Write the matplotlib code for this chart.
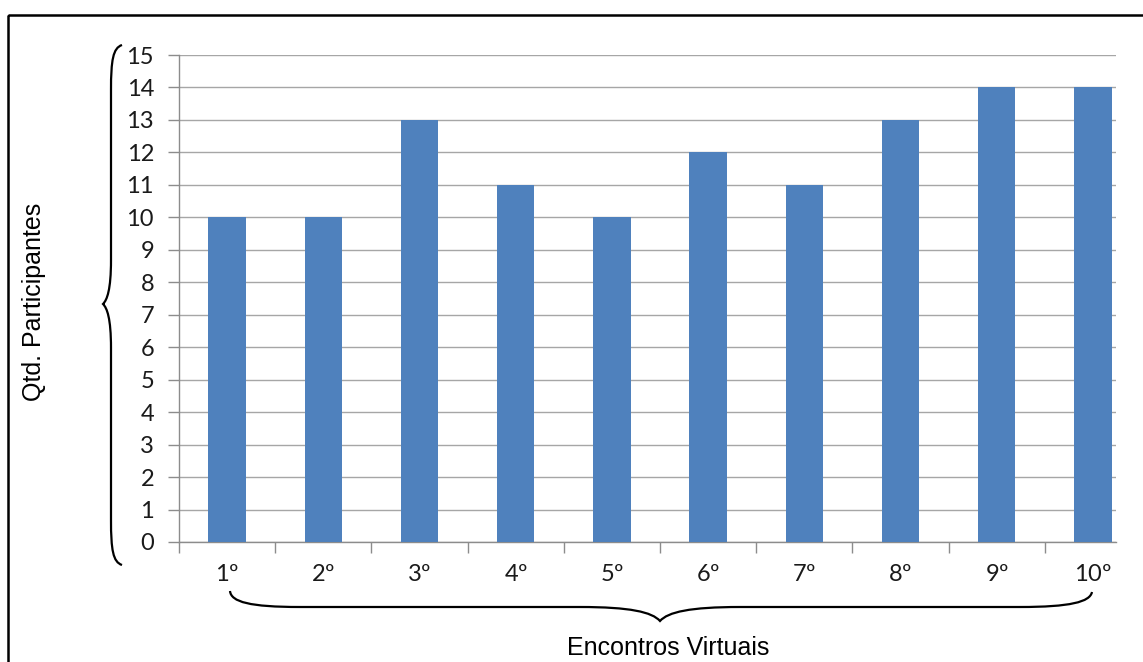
import matplotlib
matplotlib.use("Agg")
import matplotlib.pyplot as plt
from matplotlib.path import Path
from matplotlib.patches import PathPatch, Rectangle
from matplotlib.transforms import Affine2D

plt.rcParams["mathtext.fontset"] = "custom"
plt.rcParams["mathtext.rm"] = "Liberation Sans"

categories = ["1º", "2º", "3º", "4º", "5º", "6º", "7º", "8º", "9º", "10º"]
participants = [10, 10, 13, 11, 10, 12, 11, 13, 14, 14]
y_ticks = list(range(0, 16))

W, H = 1143, 662
fig = plt.figure(figsize=(W / 100, H / 100), dpi=100)
fig.patch.set_facecolor("white")

def fx(px):
    return px / W

def fy(py):
    return 1 - py / H

# category width in pixels is ~96.2; the plot area is cut at x=1116
cat_px = 96.2
ax_left, ax_right = 179, 1116
ax = fig.add_axes([fx(ax_left), fy(542), fx(ax_right) - fx(ax_left), fy(55) - fy(542)])
x = list(range(len(categories)))
ax.bar(x, participants, width=0.39, color="#4F81BD", zorder=3)
ax.set_yticks(y_ticks)
ax.set_yticklabels([str(v) for v in y_ticks], fontfamily="Lato", fontsize=17, color="#1a1a1a")
ax.set_xticks(x)
xlabels = [c[:-1] + r"$\mathregular{" + c[-1] + "}$" for c in categories]
ax.set_xticklabels(xlabels, fontfamily="Lato", fontsize=17, color="#1a1a1a")
ax.set_xticks([i - 0.5 for i in range(len(categories))], minor=True)
ax.set_xlim(-0.5, -0.5 + (ax_right - ax_left) / cat_px)
ax.set_ylim(0, 15)
ax.tick_params(axis="x", which="major", length=0, pad=16)
ax.tick_params(axis="x", which="minor", length=8, width=1, color="#8c8c8c", direction="out")
ax.tick_params(axis="y", which="major", length=8, width=1, color="#8c8c8c", pad=10)
ax.grid(axis="y", color="#a6a6a6", linewidth=1, zorder=0)
for s in ["top", "right"]:
    ax.spines[s].set_visible(False)
for s in ["left", "bottom"]:
    ax.spines[s].set_color("#8c8c8c")
    ax.spines[s].set_linewidth(1)

# pixel transform (y down)
ptrans = Affine2D().scale(1 / W, -1 / H).translate(0, 1) + fig.transFigure

# border
fig.patches.append(Rectangle((8, 15), 1150, 670, fill=False, edgecolor="black",
                             linewidth=1.8, transform=ptrans))

# left brace (vertical)
lb = [(122, 45), (113, 48), (111, 60), (111, 90),
      (111, 150), (111, 220), (111, 260),
      (111, 290), (107, 300), (103, 304),
      (107, 308), (111, 318), (111, 348),
      (111, 400), (111, 470), (111, 520),
      (111, 550), (113, 562), (122, 565)]
lcodes = [Path.MOVETO] + [Path.CURVE4] * 18
fig.patches.append(PathPatch(Path(lb, lcodes), fill=False, edgecolor="black",
                             linewidth=1.6, transform=ptrans))

# bottom brace (horizontal)
bb = [(230, 591), (231, 602), (250, 607), (300, 607),
      (400, 607), (520, 607), (580, 607),
      (630, 607), (652, 612), (660, 621),
      (668, 612), (690, 607), (740, 607),
      (800, 607), (920, 607), (1020, 607),
      (1070, 607), (1090, 602), (1092, 592)]
bcodes = [Path.MOVETO] + [Path.CURVE4] * 18
fig.patches.append(PathPatch(Path(bb, bcodes), fill=False, edgecolor="black",
                             linewidth=1.6, transform=ptrans))

# axis titles
fig.text(fx(34), fy(302), "Qtd. Participantes", rotation=90, ha="center", va="center",
         fontfamily="Liberation Sans", fontsize=18, color="black")
fig.text(fx(668), fy(648), "Encontros Virtuais", ha="center", va="center",
         fontfamily="Liberation Sans", fontsize=18, color="black")

fig.savefig("out.png", dpi=100, facecolor="white")
